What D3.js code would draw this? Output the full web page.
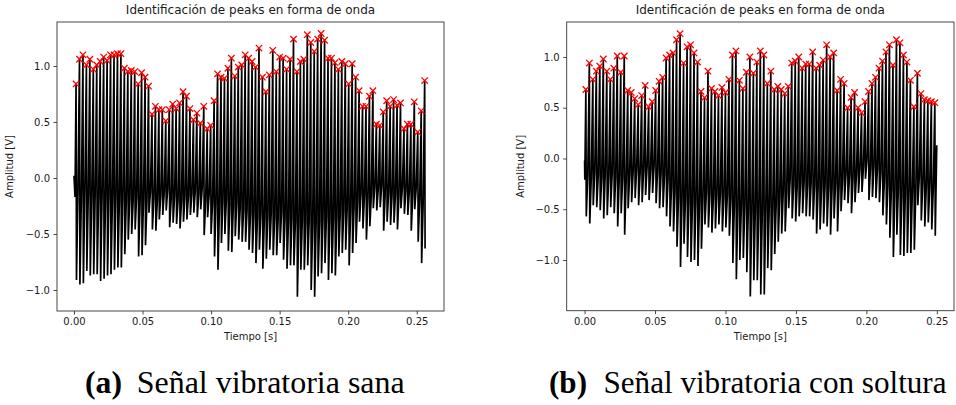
<!DOCTYPE html>
<html><head><meta charset="utf-8">
<script src="https://cdn.jsdelivr.net/npm/d3@7"></script>
<style>body{margin:0;background:#fff;overflow:hidden}</style>
</head><body>
<svg id="c" width="956" height="405" xmlns="http://www.w3.org/2000/svg"></svg>
<script>
// ---------- texts ----------
const titleText = "Identificación de peaks en forma de onda";
const xLabel = "Tiempo [s]";
const yLabel = "Amplitud [V]";
const captionA = ["(a)", "Señal vibratoria sana"];
const captionB = ["(b)", "Señal vibratoria con soltura"];
const xTicks = [0.00, 0.05, 0.10, 0.15, 0.20, 0.25];
const yTicks = [-1.0, -0.5, 0.0, 0.5, 1.0];

// ---------- panel (a) : healthy signal ----------
const peaksA = [
 0.84,1.06,1.10,1.01,1.06,0.97,1.01,1.04,1.08,1.05,
 1.10,1.10,1.11,1.11,0.98,0.95,0.96,0.95,0.84,0.94,
 0.90,0.82,0.57,0.64,0.61,0.61,0.51,0.61,0.66,0.62,
 0.67,0.77,0.73,0.62,0.52,0.58,0.49,0.64,0.44,0.47,
 0.69,0.93,0.90,0.89,0.98,1.07,0.91,0.99,1.01,1.10,
 1.07,1.04,0.99,1.16,0.90,0.77,0.92,1.14,0.95,1.08,
 1.07,0.97,1.06,1.24,0.95,1.04,1.06,1.28,1.21,1.13,
 1.24,1.29,1.23,1.07,1.07,1.03,0.97,1.04,1.02,0.84,
 1.02,0.90,0.78,0.64,0.64,0.73,0.78,0.48,0.47,0.59,
 0.69,0.64,0.70,0.65,0.67,0.44,0.48,0.48,0.68,0.41,
 0.60,0.87];
const troughsA = [
 -0.91,-0.95,-0.94,-0.83,-0.87,-0.86,-0.86,-0.92,-0.90,-0.87,
 -0.86,-0.82,-0.80,-0.80,-0.68,-0.55,-0.50,-0.46,-0.70,-0.69,
 -0.60,-0.31,-0.46,-0.47,-0.37,-0.33,-0.29,-0.44,-0.40,-0.41,
 -0.45,-0.39,-0.37,-0.33,-0.31,-0.35,-0.28,-0.51,-0.35,-0.50,
 -0.70,-0.82,-0.58,-0.50,-0.65,-0.66,-0.52,-0.55,-0.57,-0.57,
 -0.64,-0.67,-0.76,-0.64,-0.81,-0.72,-0.64,-0.69,-0.69,-0.58,
 -0.73,-0.81,-0.78,-0.78,-1.06,-0.82,-0.82,-0.78,-1.00,-1.06,
 -0.88,-0.85,-0.76,-0.91,-0.85,-0.87,-0.70,-0.67,-0.64,-0.78,
 -0.67,-0.58,-0.39,-0.45,-0.55,-0.43,-0.27,-0.29,-0.26,-0.47,
 -0.39,-0.42,-0.40,-0.46,-0.27,-0.32,-0.33,-0.47,-0.28,-0.57,
 -0.76,-0.63];
// level the signal settles at between two pulses
const baseA = [
 -0.12,-0.15,-0.10,-0.14,-0.16,-0.12,-0.17,-0.14,-0.18,-0.15,
 -0.18,-0.16,-0.20,-0.17,-0.21,-0.18,-0.20,-0.16,-0.22,-0.19,
 -0.20,-0.12,-0.18,-0.20,-0.15,-0.13,-0.10,-0.19,-0.16,-0.20,
 -0.21,-0.17,-0.16,-0.14,-0.11,-0.15,-0.09,-0.20,-0.15,-0.22,
 -0.23,-0.25,-0.21,-0.19,-0.24,-0.26,-0.22,-0.27,-0.28,-0.29,
 -0.31,-0.33,-0.35,-0.32,-0.37,-0.34,-0.31,-0.35,-0.37,-0.30,
 -0.36,-0.38,-0.36,-0.39,-0.41,-0.38,-0.40,-0.37,-0.42,-0.41,
 -0.38,-0.36,-0.34,-0.38,-0.36,-0.35,-0.31,-0.29,-0.27,-0.29,
 -0.25,-0.21,-0.14,-0.16,-0.19,-0.15,-0.08,-0.10,-0.07,-0.15,
 -0.13,-0.15,-0.14,-0.16,-0.08,-0.11,-0.12,-0.15,-0.09,-0.19,
 -0.24,null];
const startA = [0.02, -0.17];        // signal values before the first peak
const peakSpanA = [0.0015, 0.2558];  // time of first and last detected peak [s]

// ---------- panel (b) : signal with looseness ----------
const peaksB = [
 0.68,0.94,0.78,0.86,0.91,0.98,0.86,0.78,0.89,1.01,
 0.85,1.01,0.67,0.65,0.59,0.53,0.62,0.72,0.51,0.56,
 0.67,0.76,0.80,0.99,1.02,1.04,1.17,1.23,0.94,1.10,
 1.12,1.04,0.95,0.66,0.60,0.86,0.69,0.66,0.62,0.70,
 0.65,0.78,1.02,1.06,0.77,0.69,0.85,1.00,0.84,0.95,
 1.06,1.02,0.74,0.86,0.68,0.71,0.68,0.64,0.71,0.94,
 0.96,1.00,0.89,0.93,0.93,1.05,0.89,0.92,0.97,1.12,
 1.00,1.04,0.67,0.78,0.74,0.50,0.60,0.65,0.50,0.45,
 0.56,0.66,0.74,0.80,0.89,0.96,1.05,1.12,0.92,1.17,
 1.14,1.02,0.95,0.77,0.51,0.84,0.64,0.58,0.57,0.56,
 0.55];
const troughsB = [
 -0.57,-0.64,-0.46,-0.48,-0.51,-0.59,-0.56,-0.48,-0.54,-0.67,
 -0.54,-0.75,-0.49,-0.43,-0.39,-0.46,-0.43,-0.36,-0.41,-0.34,
 -0.44,-0.49,-0.48,-0.57,-0.67,-0.72,-0.87,-1.07,-0.84,-0.97,
 -1.02,-1.00,-1.06,-0.89,-0.65,-0.68,-0.73,-0.69,-0.65,-0.72,
 -0.68,-0.76,-1.03,-1.19,-1.00,-0.98,-1.12,-1.36,-1.20,-1.20,
 -1.34,-1.34,-1.08,-1.10,-0.94,-0.82,-0.74,-0.72,-0.49,-0.59,
 -0.62,-0.57,-0.54,-0.57,-0.57,-0.60,-0.74,-0.70,-0.64,-0.67,
 -0.75,-0.59,-0.72,-0.52,-0.41,-0.44,-0.54,-0.43,-0.34,-0.33,
 -0.20,-0.41,-0.38,-0.39,-0.43,-0.56,-0.65,-0.78,-0.97,-0.75,
 -0.95,-0.96,-0.93,-0.93,-0.90,-0.46,-0.61,-0.67,-0.63,-0.70,
 -0.76];
const baseB = [
 -0.16,-0.19,-0.13,-0.17,-0.19,-0.15,-0.18,-0.14,-0.19,-0.21,
 -0.19,-0.22,-0.16,-0.13,-0.10,-0.14,-0.12,-0.08,-0.11,-0.07,
 -0.13,-0.15,-0.16,-0.21,-0.28,-0.33,-0.38,-0.43,-0.40,-0.43,
 -0.44,-0.42,-0.45,-0.40,-0.33,-0.35,-0.38,-0.36,-0.34,-0.38,
 -0.36,-0.40,-0.46,-0.50,-0.48,-0.46,-0.51,-0.54,-0.52,-0.53,
 -0.54,-0.52,-0.48,-0.50,-0.44,-0.38,-0.34,-0.33,-0.20,-0.26,
 -0.28,-0.24,-0.23,-0.25,-0.24,-0.26,-0.30,-0.28,-0.26,-0.28,
 -0.30,-0.25,-0.28,-0.21,-0.15,-0.17,-0.20,-0.15,-0.10,-0.08,
 -0.02,-0.10,-0.08,-0.10,-0.13,-0.21,-0.26,-0.30,-0.34,-0.30,
 -0.36,-0.34,-0.35,-0.33,-0.32,-0.18,-0.24,-0.28,-0.26,-0.30,
 0.13];
const startB = [-0.02, -0.21];
const peakSpanB = [0.0009, 0.2486];

// ---------- layout ----------
const panels = [
  {peaks: peaksA, troughs: troughsA, base: baseA, start: startA, span: peakSpanA,
   xDomain: [-0.0124, 0.2699], yDomain: [-1.1875, 1.3929],
   left: 57, right: 444, top: 22, bottom: 311, yLabelX: 13, caption: captionA,
   capX: [85, 136.7], capLen: [37, 268]},
  {peaks: peaksB, troughs: troughsB, base: baseB, start: startB, span: peakSpanB,
   xDomain: [-0.0127, 0.2622], yDomain: [-1.4995, 1.3448],
   left: 566.7, right: 954, top: 22, bottom: 310.7, yLabelX: 524, caption: captionB,
   capX: [549, 603.5], capLen: [38, 343]}
];

const svg = d3.select("#c");
svg.append("rect").attr("width", 956).attr("height", 405).attr("fill", "#fff");

const FONT = "DejaVu Sans, Verdana, sans-serif";
const TXT = "#1a1a1a";

panels.forEach((p, k) => {
  const x = d3.scaleLinear().domain(p.xDomain).range([p.left, p.right]);
  const y = d3.scaleLinear().domain(p.yDomain).range([p.bottom, p.top]);
  const n = p.peaks.length;
  const tp = d3.scaleLinear().domain([0, n - 1]).range(p.span);
  const dt = (p.span[1] - p.span[0]) / (n - 1);

  // waveform points built from the arrays
  const pts = [[0, p.start[0]], [Math.max(0, p.span[0] - 0.3 * dt), p.start[1]]];
  for (let i = 0; i < n; i++) {
    const t = tp(i);
    pts.push([t, p.peaks[i]]);
    pts.push([t + 0.12 * dt, p.troughs[i]]);
    if (p.base[i] != null) pts.push([t + 0.55 * dt, p.base[i]]);
  }

  const g = svg.append("g");
  const clipId = "clip" + k;
  g.append("clipPath").attr("id", clipId).append("rect")
    .attr("x", p.left).attr("y", p.top).attr("width", p.right - p.left).attr("height", p.bottom - p.top);

  g.append("path").datum(pts)
    .attr("clip-path", `url(#${clipId})`)
    .attr("fill", "none").attr("stroke", "#000").attr("stroke-width", 1.7)
    .attr("stroke-linejoin", "miter").attr("stroke-miterlimit", 2)
    .attr("d", d3.line().x(d => x(d[0])).y(d => y(d[1])));

  // peak markers (red x)
  const s = 3.2;
  g.append("g").selectAll("path").data(p.peaks).join("path")
    .attr("transform", (d, i) => `translate(${x(tp(i))},${y(d)})`)
    .attr("d", `M${-s},${-s}L${s},${s}M${-s},${s}L${s},${-s}`)
    .attr("stroke", "#ff0000").attr("stroke-width", 1.3).attr("fill", "none");

  // axes
  const xa = g.append("g").attr("transform", `translate(0,${p.bottom})`)
    .call(d3.axisBottom(x).tickValues(xTicks).tickFormat(d3.format(".2f")).tickSize(3.5).tickPadding(3.5).tickSizeOuter(0));
  const ya = g.append("g").attr("transform", `translate(${p.left},0)`)
    .call(d3.axisLeft(y).tickValues(yTicks).tickFormat(d3.format(".1f")).tickSize(3.5).tickPadding(3.5).tickSizeOuter(0));
  [xa, ya].forEach(a => {
    a.select(".domain").remove();
    a.selectAll("line").attr("stroke", "#333").attr("stroke-width", 0.9);
    a.selectAll("text").attr("font-family", FONT).attr("font-size", "10px").attr("fill", TXT);
  });

  // frame
  g.append("rect").attr("x", p.left).attr("y", p.top)
    .attr("width", p.right - p.left).attr("height", p.bottom - p.top)
    .attr("fill", "none").attr("stroke", "#333").attr("stroke-width", 0.9);

  const cx = (p.left + p.right) / 2;
  g.append("text").attr("x", cx).attr("y", 14).attr("text-anchor", "middle")
    .attr("font-family", FONT).attr("font-size", "12px").attr("fill", TXT).text(titleText);
  g.append("text").attr("x", cx).attr("y", 340).attr("text-anchor", "middle")
    .attr("font-family", FONT).attr("font-size", "10px").attr("fill", TXT).text(xLabel);
  g.append("text").attr("transform", `translate(${p.yLabelX},${(p.top + p.bottom) / 2}) rotate(-90)`)
    .attr("text-anchor", "middle")
    .attr("font-family", FONT).attr("font-size", "10px").attr("fill", TXT).text(yLabel);

  // caption
  g.append("text").attr("x", p.capX[0]).attr("y", 393)
    .attr("font-family", "Liberation Serif, Times New Roman, serif").attr("font-weight", "bold")
    .attr("font-size", "32px").attr("fill", "#000")
    .attr("textLength", p.capLen[0]).attr("lengthAdjust", "spacingAndGlyphs").text(p.caption[0]);
  g.append("text").attr("x", p.capX[1]).attr("y", 393)
    .attr("font-family", "Liberation Serif, Times New Roman, serif")
    .attr("font-size", "32px").attr("fill", "#000")
    .attr("textLength", p.capLen[1]).attr("lengthAdjust", "spacingAndGlyphs").text(p.caption[1]);
});
</script>
</body></html>
